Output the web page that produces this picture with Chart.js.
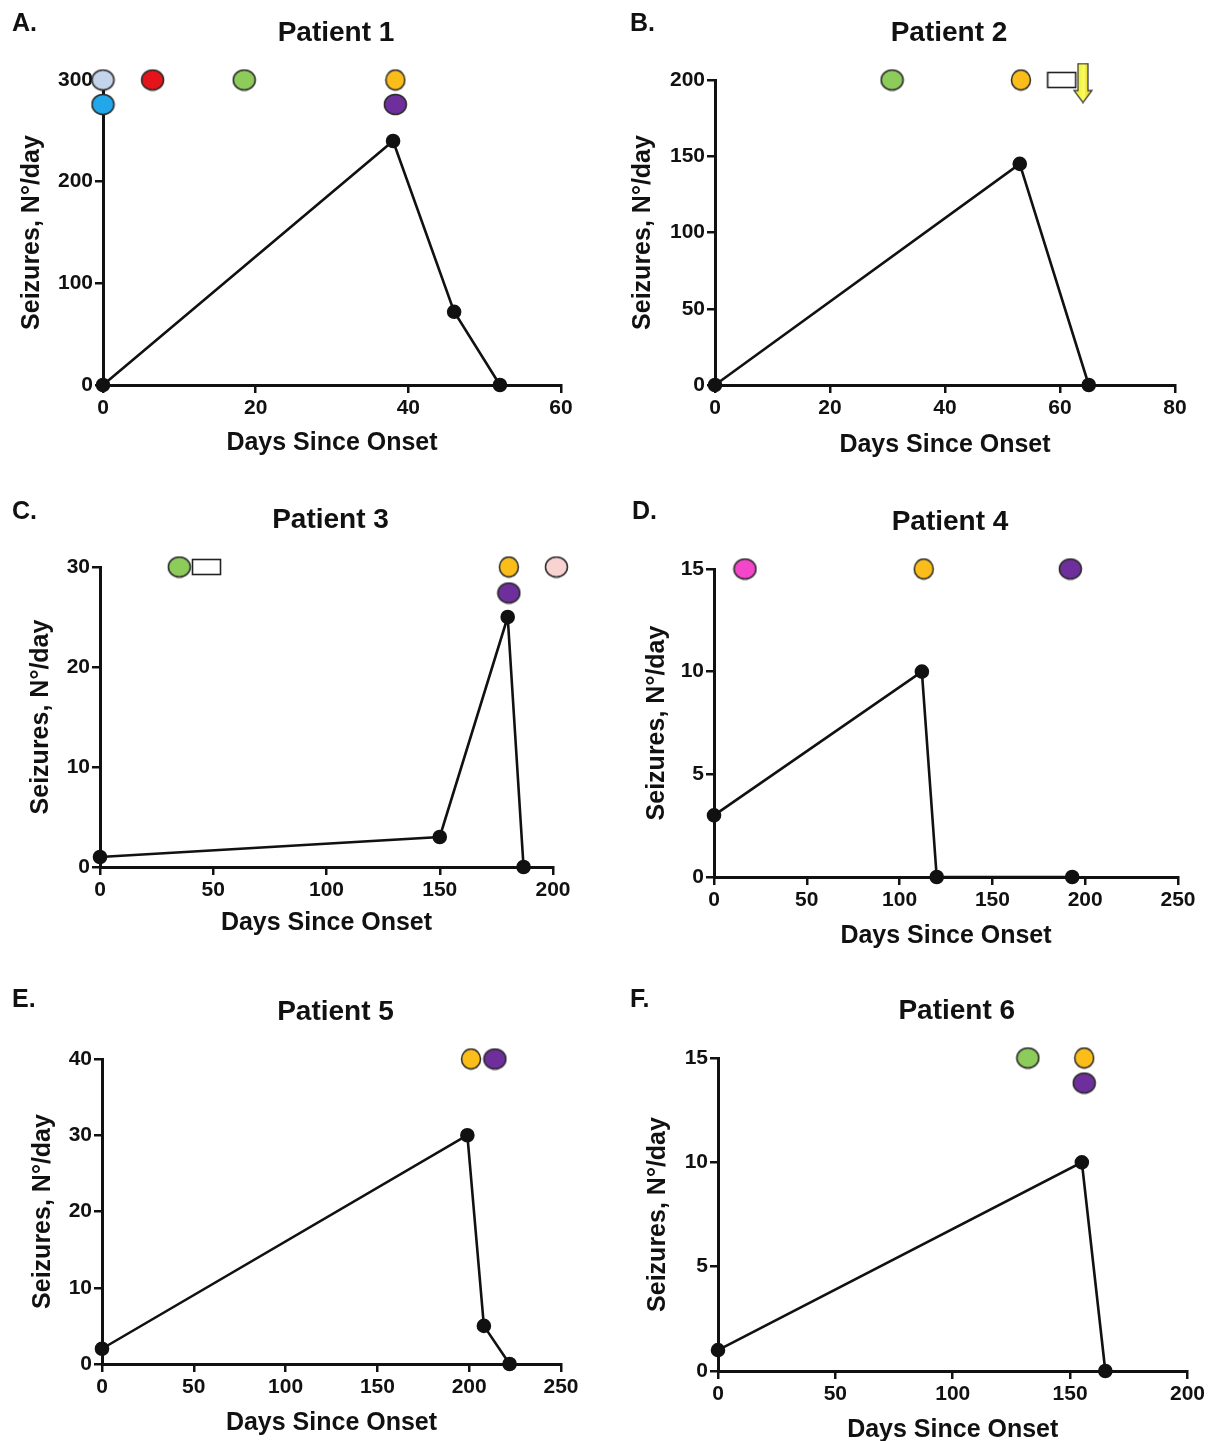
<!DOCTYPE html>
<html lang="en">
<head>
<meta charset="UTF-8">
<title>Seizures per day since onset</title>
<script src="https://cdn.jsdelivr.net/npm/chart.js"></script>
<style>
    html, body {
        margin: 0;
        padding: 0;
        background: #fff;
        overflow: hidden;
    }

    body {
        position: relative;
        width: 1208px;
        height: 1441px;
    }

    canvas {
        position: absolute;
    }
</style>
</head>
<body>
<canvas id="p1"></canvas>
<canvas id="p2"></canvas>
<canvas id="p3"></canvas>
<canvas id="p4"></canvas>
<canvas id="p5"></canvas>
<canvas id="p6"></canvas>

<script>
// Patient 1
var p1Days = [0, 38, 46, 52];
var p1Seizures = [0, 240, 72, 0];
var p1MarkDays = [0, 0, 6.5, 18.5, 38.3, 38.3];
var p1MarkLevels = [300, 276, 300, 300, 300, 276];
var p1MarkKinds = ['ltblue', 'blue', 'red', 'green', 'orange', 'purple'];
var p1XTicks = [0, 60, 20];   // min, max, step
var p1YTicks = [0, 300, 100];

// Patient 2
var p2Days = [0, 53, 65];
var p2Seizures = [0, 145, 0];
var p2MarkDays = [30.8, 53.2, 60.3, 64];
var p2MarkLevels = [200, 200, 200, 198];
var p2MarkKinds = ['green', 'orange', 'rect', 'arrow'];
var p2XTicks = [0, 80, 20];
var p2YTicks = [0, 200, 50];

// Patient 3
var p3Days = [0, 150, 180, 187];
var p3Seizures = [1, 3, 25, 0];
var p3MarkDays = [35, 47, 180.5, 180.5, 201.5];
var p3MarkLevels = [30, 30, 30, 27.4, 30];
var p3MarkKinds = ['green', 'rect', 'orange', 'purple', 'pink'];
var p3XTicks = [0, 200, 50];
var p3YTicks = [0, 30, 10];

// Patient 4
var p4Days = [0, 112, 120, 193];
var p4Seizures = [3, 10, 0, 0];
var p4MarkDays = [16.7, 113, 192];
var p4MarkLevels = [15, 15, 15];
var p4MarkKinds = ['magenta', 'orange', 'purple'];
var p4XTicks = [0, 250, 50];
var p4YTicks = [0, 15, 5];

// Patient 5
var p5Days = [0, 199, 208, 222];
var p5Seizures = [2, 30, 5, 0];
var p5MarkDays = [201, 214];
var p5MarkLevels = [40, 40];
var p5MarkKinds = ['orange', 'purple'];
var p5XTicks = [0, 250, 50];
var p5YTicks = [0, 40, 10];

// Patient 6
var p6Days = [0, 155, 165];
var p6Seizures = [1, 10, 0];
var p6MarkDays = [132, 156, 156];
var p6MarkLevels = [15, 15, 13.8];
var p6MarkKinds = ['green', 'orange', 'purple'];
var p6XTicks = [0, 200, 50];
var p6YTicks = [0, 15, 5];

var FONT = 'Arial, "Liberation Sans", sans-serif';
var INK = '#111';

var markColors = {
    ltblue: '#c4d4ea',
    blue: '#22a8ea',
    red: '#e5141b',
    green: '#8dcb5a',
    orange: '#fbbd19',
    purple: '#6e2f9c',
    pink: '#f9d2d2',
    magenta: '#f446c9'
};

// little canvases used as point styles for the treatment markers
function makeMark(kind) {
    var c = document.createElement('canvas');
    var ctx;
    if (kind === 'rect') {
        c.width = 31; c.height = 18;
        ctx = c.getContext('2d');
        ctx.fillStyle = '#fff';
        ctx.strokeStyle = '#222';
        ctx.lineWidth = 1.6;
        ctx.fillRect(1.5, 1.5, 28, 15);
        ctx.strokeRect(1.5, 1.5, 28, 15);
    } else if (kind === 'arrow') {
        c.width = 22; c.height = 41;
        ctx = c.getContext('2d');
        ctx.beginPath();
        ctx.moveTo(6, 1);
        ctx.lineTo(16, 1);
        ctx.lineTo(16, 28);
        ctx.lineTo(20, 28);
        ctx.lineTo(11, 40);
        ctx.lineTo(2, 28);
        ctx.lineTo(6, 28);
        ctx.closePath();
        var g = ctx.createLinearGradient(6, 0, 16, 0);
        g.addColorStop(0, '#f2f230');
        g.addColorStop(0.6, '#fbfb6a');
        g.addColorStop(1, '#e6d820');
        ctx.fillStyle = g;
        ctx.fill();
        ctx.strokeStyle = '#444';
        ctx.lineWidth = 1.3;
        ctx.stroke();
    } else {
        var w = kind === 'orange' ? 19 : 22;
        c.width = w + 3; c.height = 23;
        ctx = c.getContext('2d');
        ctx.beginPath();
        ctx.ellipse(c.width / 2, c.height / 2, w / 2, 10, 0, 0, Math.PI * 2);
        ctx.fillStyle = markColors[kind];
        ctx.fill();
        ctx.strokeStyle = '#2a2a2a';
        ctx.lineWidth = 1.5;
        ctx.stroke();
    }
    return c;
}

function textPlugin(title, letter, lx) {
    return {
        id: 'panelText',
        afterDraw: function (chart) {
            var a = chart.chartArea, ctx = chart.ctx;
            ctx.save();
            ctx.fillStyle = INK;
            ctx.textBaseline = 'middle';
            ctx.textAlign = 'center';
            ctx.font = 'bold 28px ' + FONT;
            ctx.fillText(title, (a.left + a.right) / 2 + 4, a.top - 47);
            ctx.textAlign = 'left';
            ctx.font = 'bold 25px ' + FONT;
            ctx.fillText(letter, lx, 24);
            ctx.restore();
        }
    };
}

function toPoints(xs, ys) {
    return xs.map(function (x, i) { return {x: x, y: ys[i]}; });
}

function drawPanel(p) {
    var canvas = document.getElementById(p.id);
    canvas.width = p.cell[2];
    canvas.height = p.cell[3];
    canvas.style.left = p.cell[0] + 'px';
    canvas.style.top = p.cell[1] + 'px';

    var titleHalf = 12.5;
    var yW = p.yGap + titleHalf;
    var xH = p.xGap + titleHalf;

    var axisCommon = function (ticks) {
        return {
            type: 'linear',
            min: ticks[0],
            max: ticks[1],
            ticks: {
                stepSize: ticks[2],
                color: INK,
                font: {family: FONT, size: 21, weight: 'bold'}
            },
            grid: {
                display: true,
                drawOnChartArea: false,
                drawTicks: true,
                tickLength: 8,
                color: INK,
                lineWidth: 2.5
            },
            border: {display: true, color: INK, width: 3}
        };
    };

    var xAxis = axisCommon(p.xTicks);
    xAxis.ticks.padding = 3;
    xAxis.title = {
        display: true, text: 'Days Since Onset', color: INK, padding: 0,
        font: {family: FONT, size: 25, weight: 'bold', lineHeight: 1}
    };
    xAxis.afterFit = function (s) { s.height = xH; };

    var yAxis = axisCommon(p.yTicks);
    yAxis.ticks.padding = 2;
    yAxis.title = {
        display: true, text: 'Seizures, N°/day', color: INK, padding: 0,
        font: {family: FONT, size: 25, weight: 'bold', lineHeight: 1}
    };
    yAxis.afterFit = function (s) { s.width = yW; };

    new Chart(canvas.getContext('2d'), {
        type: 'scatter',
        data: {
            datasets: [{
                label: 'Markers',
                data: toPoints(p.markDays, p.markLevels),
                pointStyle: p.markKinds.map(makeMark),
                pointRadius: 11,
                showLine: false,
                clip: false
            }, {
                label: 'Seizures',
                data: toPoints(p.days, p.seizures),
                showLine: true,
                borderColor: INK,
                borderWidth: 2.6,
                pointRadius: 6,
                pointBackgroundColor: INK,
                pointBorderColor: INK,
                tension: 0,
                clip: false
            }]
        },
        options: {
            responsive: false,
            animation: false,
            layout: {
                padding: {
                    left: p.area[0] - p.cell[0] - yW,
                    top: p.area[1] - p.cell[1],
                    right: p.cell[0] + p.cell[2] - p.area[2],
                    bottom: p.cell[1] + p.cell[3] - p.area[3] - xH
                }
            },
            plugins: {
                legend: {display: false},
                tooltip: {enabled: false}
            },
            scales: {x: xAxis, y: yAxis}
        },
        plugins: [textPlugin(p.title, p.letter, p.letterX)]
    });
}

drawPanel({
    id: 'p1', letter: 'A.', letterX: 12, title: 'Patient 1',
    cell: [0, 0, 604, 488], area: [103, 80, 561, 385], yGap: 71, xGap: 58,
    days: p1Days, seizures: p1Seizures,
    markDays: p1MarkDays, markLevels: p1MarkLevels, markKinds: p1MarkKinds,
    xTicks: p1XTicks, yTicks: p1YTicks
});
drawPanel({
    id: 'p2', letter: 'B.', letterX: 26, title: 'Patient 2',
    cell: [604, 0, 604, 488], area: [715, 80, 1175, 385], yGap: 72, xGap: 60,
    days: p2Days, seizures: p2Seizures,
    markDays: p2MarkDays, markLevels: p2MarkLevels, markKinds: p2MarkKinds,
    xTicks: p2XTicks, yTicks: p2YTicks
});
drawPanel({
    id: 'p3', letter: 'C.', letterX: 12, title: 'Patient 3',
    cell: [0, 488, 604, 488], area: [100, 567, 553, 867], yGap: 59, xGap: 56,
    days: p3Days, seizures: p3Seizures,
    markDays: p3MarkDays, markLevels: p3MarkLevels, markKinds: p3MarkKinds,
    xTicks: p3XTicks, yTicks: p3YTicks
});
drawPanel({
    id: 'p4', letter: 'D.', letterX: 28, title: 'Patient 4',
    cell: [604, 488, 604, 488], area: [714, 569, 1178, 877], yGap: 57, xGap: 59,
    days: p4Days, seizures: p4Seizures,
    markDays: p4MarkDays, markLevels: p4MarkLevels, markKinds: p4MarkKinds,
    xTicks: p4XTicks, yTicks: p4YTicks
});
drawPanel({
    id: 'p5', letter: 'E.', letterX: 12, title: 'Patient 5',
    cell: [0, 976, 604, 472], area: [102, 1059, 561, 1364], yGap: 59, xGap: 59,
    days: p5Days, seizures: p5Seizures,
    markDays: p5MarkDays, markLevels: p5MarkLevels, markKinds: p5MarkKinds,
    xTicks: p5XTicks, yTicks: p5YTicks
});
drawPanel({
    id: 'p6', letter: 'F.', letterX: 26, title: 'Patient 6',
    cell: [604, 976, 604, 472], area: [718, 1058, 1188, 1371], yGap: 60, xGap: 59,
    days: p6Days, seizures: p6Seizures,
    markDays: p6MarkDays, markLevels: p6MarkLevels, markKinds: p6MarkKinds,
    xTicks: p6XTicks, yTicks: p6YTicks
});
</script>
</body>
</html>
